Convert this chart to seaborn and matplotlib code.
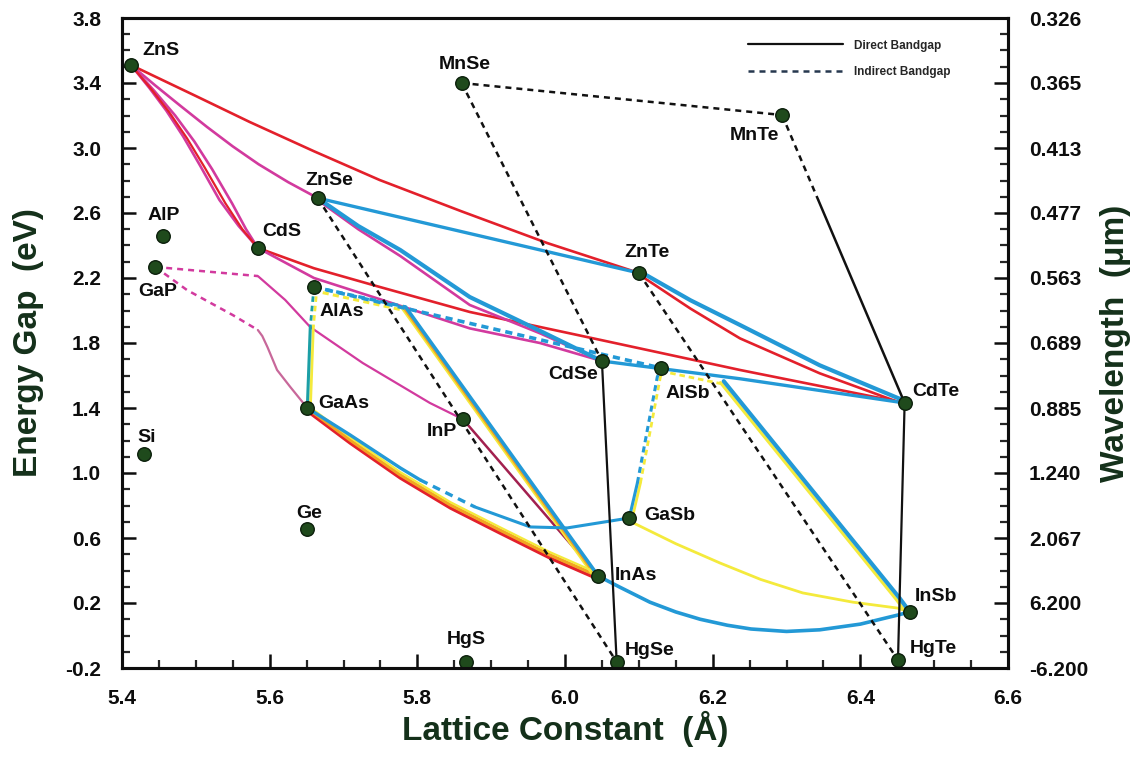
import matplotlib
matplotlib.use("Agg")
import matplotlib.pyplot as plt
import seaborn as sns
import pandas as pd
from matplotlib.lines import Line2D
from matplotlib.ticker import MultipleLocator, FixedLocator
from matplotlib.transforms import offset_copy

# ---------------- data ----------------
compounds = ["ZnS", "ZnSe", "CdS", "AlP", "GaP", "AlAs", "GaAs", "Si", "Ge", "InP", "InAs",
             "HgS", "HgSe", "CdSe", "AlSb", "GaSb", "ZnTe", "MnSe", "MnTe", "CdTe", "InSb", "HgTe"]
lattice = [5.412, 5.665, 5.584, 5.456, 5.445, 5.660, 5.651, 5.430, 5.651, 5.862, 6.045,
           5.866, 6.070, 6.050, 6.130, 6.087, 6.100, 5.860, 6.294, 6.460, 6.467, 6.451]
gap = [3.51, 2.69, 2.385, 2.46, 2.27, 2.145, 1.40, 1.117, 0.655, 1.33, 0.366,
       -0.163, -0.163, 1.689, 1.646, 0.723, 2.231, 3.40, 3.203, 1.431, 0.145, -0.151]

left_ticks = [-0.2, 0.2, 0.6, 1.0, 1.4, 1.8, 2.2, 2.6, 3.0, 3.4, 3.8]
wavelength_labels = ["-6.200", "6.200", "2.067", "1.240", "0.885", "0.689",
                     "0.563", "0.477", "0.413", "0.365", "0.326"]
x_ticks = [5.4, 5.6, 5.8, 6.0, 6.2, 6.4, 6.6]

# alloy curves (lattice constant, energy gap)
znS_znTe_red = [(5.412, 3.511), (5.50, 3.32), (5.573, 3.160), (5.66, 2.98), (5.749, 2.803),
                (5.86, 2.61), (5.976, 2.415), (6.100, 2.231)]
znTe_cdTe_red = [(6.100, 2.231), (6.17, 2.02), (6.237, 1.837), (6.345, 1.622), (6.460, 1.431)]
cdS_cdTe_red = [(5.584, 2.385), (5.66, 2.26), (5.749, 2.145), (5.871, 1.991), (6.047, 1.82),
                (6.237, 1.634), (6.460, 1.431)]
znS_cdS_red = [(5.412, 3.511), (5.440, 3.36), (5.464, 3.22), (5.488, 3.06), (5.512, 2.88),
               (5.540, 2.66), (5.563, 2.50), (5.584, 2.385)]
znS_cdS_mag_a = [(5.412, 3.511), (5.437, 3.37), (5.460, 3.23), (5.483, 3.07), (5.506, 2.89),
                 (5.532, 2.68), (5.558, 2.52), (5.584, 2.385)]
znS_cdS_mag_b = [(5.412, 3.511), (5.444, 3.35), (5.472, 3.20), (5.498, 3.04), (5.522, 2.87),
                 (5.549, 2.66), (5.568, 2.50), (5.584, 2.385)]
znS_znSe_mag = [(5.412, 3.511), (5.445, 3.385), (5.479, 3.26), (5.515, 3.13), (5.550, 3.01),
                (5.585, 2.90), (5.625, 2.79), (5.665, 2.692)]
znSe_cdSe_mag = [(5.665, 2.68), (5.72, 2.50), (5.777, 2.335), (5.871, 2.034), (5.966, 1.86), (6.050, 1.689)]
cdS_cdSe_mag = [(5.584, 2.385), (5.66, 2.20), (5.749, 2.07), (5.871, 1.89), (5.966, 1.80), (6.050, 1.689)]
gaP_inP_ind = [(5.445, 2.268), (5.584, 2.212)]
gaP_inP_dir = [(5.584, 2.212), (5.621, 2.065), (5.655, 1.898), (5.726, 1.677), (5.817, 1.431), (5.862, 1.33)]
gaP_gaAs_ind = [(5.445, 2.268), (5.488, 2.126), (5.550, 1.972), (5.584, 1.880)]
gaP_gaAs_dir = [(5.584, 1.880), (5.590, 1.843), (5.597, 1.775), (5.610, 1.634), (5.628, 1.529), (5.651, 1.40)]
inP_inAs = [(5.862, 1.33), (6.045, 0.366)]

znSe_znTe_blue = [(5.665, 2.692), (6.100, 2.231)]
znSe_cdSe_blue = [(5.665, 2.692), (5.72, 2.52), (5.777, 2.372), (5.871, 2.083), (5.966, 1.875), (6.050, 1.689)]
znTe_cdTe_blue = [(6.100, 2.231), (6.17, 2.05), (6.237, 1.898), (6.345, 1.65), (6.460, 1.431)]
cdSe_cdTe_blue = [(6.050, 1.689), (6.237, 1.58), (6.460, 1.431)]
alAs_alSb_ind = [(5.660, 2.145), (6.130, 1.646)]
alAs_inAs_ind = [(5.660, 2.145), (5.784, 2.022)]
alAs_inAs_dir = [(5.784, 2.022), (6.045, 0.366)]
alAs_gaAs_ind = [(5.660, 2.145), (5.655, 1.898)]
alAs_gaAs_dir = [(5.655, 1.898), (5.651, 1.40)]
gaAs_inAs = [(5.651, 1.40), (5.709, 1.203), (5.777, 0.988), (5.845, 0.803), (5.912, 0.649), (5.980, 0.495), (6.045, 0.366)]
gaAs_gaSb_a = [(5.651, 1.40), (5.709, 1.234), (5.777, 1.031), (5.804, 0.957)]
gaAs_gaSb_ind = [(5.804, 0.957), (5.878, 0.791)]
gaAs_gaSb_b = [(5.878, 0.791), (5.953, 0.668), (6.003, 0.662), (6.087, 0.723)]
inAs_inSb = [(6.045, 0.366), (6.074, 0.298), (6.115, 0.205), (6.15, 0.145), (6.183, 0.10),
             (6.22, 0.063), (6.252, 0.040), (6.30, 0.025), (6.345, 0.035), (6.40, 0.07),
             (6.450, 0.125), (6.467, 0.145)]
gaSb_inSb = [(6.087, 0.723), (6.093, 0.692), (6.15, 0.565), (6.210, 0.446), (6.265, 0.345),
             (6.322, 0.262), (6.39, 0.205), (6.450, 0.169), (6.467, 0.145)]
gaSb_alSb_dir = [(6.087, 0.723), (6.098, 0.938)]
gaSb_alSb_ind = [(6.098, 0.938), (6.125, 1.591), (6.130, 1.646)]
alSb_inSb_ind = [(6.130, 1.646), (6.215, 1.565)]
alSb_inSb_dir = [(6.215, 1.565), (6.453, 0.231), (6.467, 0.145)]

mnSe_mnTe = [(5.860, 3.40), (6.294, 3.203)]
mnSe_cdSe = [(5.860, 3.40), (6.050, 1.689)]
mnTe_cdTe_ind = [(6.294, 3.203), (6.343, 2.680)]
mnTe_cdTe_dir = [(6.343, 2.680), (6.460, 1.431)]
znSe_hgSe = [(5.665, 2.692), (6.070, -0.163)]
znTe_hgTe = [(6.100, 2.231), (6.451, -0.151)]
cdSe_hgSe = [(6.050, 1.689), (6.070, -0.163)]
cdTe_hgTe = [(6.460, 1.431), (6.451, -0.151)]

# ---------------- style ----------------
RED = "#e3202b"
MAG = "#d23a9e"
PINK = "#c8689a"
BLUE = "#2399d6"
TEAL = "#1c9fa6"
YEL = "#f4ea3c"
ORA = "#f2a422"
MAR = "#a2204f"
BLK = "#111111"
DASH = (0, (2.4, 2.0))

label_offsets = {
    "ZnS": (8.6, 10.8, "left"), "ZnSe": (8.6, 13, "center"), "CdS": (3, 11.5, "left"),
    "AlP": (0, 14.4, "center"), "GaP": (1.5, -18, "center"), "AlAs": (4.3, -18, "left"),
    "GaAs": (8, 3.6, "left"), "Si": (2, 12, "center"), "Ge": (1.5, 11.5, "center"),
    "InP": (-4.3, -8.6, "right"), "InAs": (12, 0.7, "left"), "HgS": (0, 16, "center"),
    "HgSe": (5.8, 8.6, "left"), "CdSe": (-3, -10, "right"), "AlSb": (3, -18, "left"),
    "GaSb": (11, 2, "left"), "ZnTe": (5.8, 14.4, "center"), "MnSe": (2, 13, "center"),
    "MnTe": (-20, -14.4, "center"), "CdTe": (5.8, 8, "left"), "InSb": (3.6, 10.8, "left"),
    "HgTe": (8.6, 8, "left"),
}

sns.set_theme(style="ticks")
plt.rcParams["font.family"] = ["Liberation Sans", "DejaVu Sans"]
plt.rcParams["font.weight"] = "bold"

fig = plt.figure(figsize=(11.36, 7.66), dpi=100)
ax = fig.add_axes([122 / 1136, 1 - 668 / 766, 886 / 1136, 650 / 766])


def draw(points, color, lw=1.8, ls="-", z=2, shift=(0, 0)):
    df = pd.DataFrame(points, columns=["a", "E"])
    tr = offset_copy(ax.transData, fig=fig, x=shift[0], y=shift[1], units="points")
    sns.lineplot(data=df, x="a", y="E", sort=False, estimator=None, color=color,
                 linewidth=lw, linestyle=ls, zorder=z, ax=ax, transform=tr,
                 solid_capstyle="round", solid_joinstyle="round")


# red / magenta family
draw(znS_znTe_red, RED, 1.9)
draw(znTe_cdTe_red, RED, 1.9, shift=(0, -1))
draw(cdS_cdTe_red, RED, 1.9)
draw(znS_cdS_mag_a, MAG, 1.9)
draw(znS_cdS_mag_b, MAG, 1.9)
draw(znS_cdS_red, RED, 1.6, z=2.1)
draw(znS_znSe_mag, MAG, 1.9)
draw(znSe_cdSe_mag, MAG, 1.9)
draw(cdS_cdSe_mag, MAG, 1.9)
draw(gaP_inP_ind, MAG, 1.8, ls=DASH)
draw(gaP_inP_dir, MAG, 1.6)
draw(gaP_gaAs_ind, MAG, 1.8, ls=DASH)
draw(gaP_gaAs_dir, PINK, 1.6)
draw(inP_inAs, MAR, 1.8)

# blue / yellow family
draw(znSe_znTe_blue, BLUE, 2.4, z=3)
draw(znSe_cdSe_blue, BLUE, 3.0, z=3)
draw(znTe_cdTe_blue, BLUE, 3.0, z=3, shift=(0, 1.5))
draw(cdSe_cdTe_blue, BLUE, 2.4, z=3)
draw(alAs_alSb_ind, BLUE, 2.6, ls=(0, (2.0, 1.4)), z=3)
draw(alAs_inAs_ind, YEL, 2.2, ls=(0, (2.0, 1.4)), z=2.8, shift=(-1, -2.5))
draw(alAs_inAs_dir, ORA, 2.4, z=2.8, shift=(-2.2, 0))
draw(alAs_inAs_dir, YEL, 1.2, z=2.9, shift=(-3.6, 0))
draw(alAs_inAs_ind, BLUE, 2.4, ls=(0, (2.0, 1.4)), z=3)
draw(alAs_inAs_dir, BLUE, 2.6, z=3)
draw(alAs_gaAs_ind, YEL, 2.0, ls=(0, (2.0, 1.4)), z=2.8, shift=(2.2, 0))
draw(alAs_gaAs_ind, TEAL, 2.0, ls=(0, (2.0, 1.4)), z=3)
draw(alAs_gaAs_dir, YEL, 2.0, z=2.8, shift=(2.2, 0))
draw(alAs_gaAs_dir, TEAL, 2.2, z=3)
draw(gaAs_inAs, RED, 2.4, z=2.6, shift=(0, -2.2))
draw(gaAs_inAs, ORA, 2.4, z=2.7)
draw(gaAs_inAs, YEL, 1.6, z=2.8, shift=(0, 2.0))
draw(gaAs_gaSb_a, BLUE, 2.4, z=3)
draw(gaAs_gaSb_ind, BLUE, 2.4, ls=(0, (2.4, 1.8)), z=3)
draw(gaAs_gaSb_b, BLUE, 2.2, z=3)
draw(inAs_inSb, BLUE, 2.6, z=3)
draw(gaSb_inSb, YEL, 2.0, z=2.8)
draw(gaSb_alSb_dir, YEL, 2.0, z=2.8, shift=(2.2, 0))
draw(gaSb_alSb_ind, YEL, 2.0, ls=(0, (2.0, 1.4)), z=2.8, shift=(2.2, 0))
draw(gaSb_alSb_dir, BLUE, 2.2, z=3)
draw(gaSb_alSb_ind, BLUE, 2.2, ls=(0, (2.0, 1.4)), z=3)
draw(alSb_inSb_ind, YEL, 2.0, ls=(0, (2.0, 1.4)), z=2.8, shift=(0, -2.2))
draw(alSb_inSb_dir, YEL, 2.2, z=2.8, shift=(-2.4, -1))
draw(alSb_inSb_dir, BLUE, 3.0, z=3)

# black (direct / indirect tie lines)
draw(mnSe_mnTe, BLK, 1.8, ls=DASH, z=4)
draw(mnSe_cdSe, BLK, 1.8, ls=DASH, z=4)
draw(mnTe_cdTe_ind, BLK, 1.8, ls=DASH, z=4)
draw(mnTe_cdTe_dir, BLK, 1.8, z=4)
draw(znSe_hgSe, BLK, 1.8, ls=DASH, z=4)
draw(znTe_hgTe, BLK, 1.8, ls=DASH, z=4)
draw(cdSe_hgSe, BLK, 1.6, z=4)
draw(cdTe_hgTe, BLK, 1.6, z=4)

# compounds
cdf = pd.DataFrame({"name": compounds, "a": lattice, "E": gap})
sns.scatterplot(data=cdf, x="a", y="E", s=95, color="#1f4a1c", edgecolor="#0b1f0b",
                linewidth=1.0, zorder=6, ax=ax, clip_on=False, legend=False)
for n, a, e in zip(compounds, lattice, gap):
    dx, dy, ha = label_offsets[n]
    ax.annotate(n, (a, e), xytext=(dx, dy), textcoords="offset points", ha=ha, va="center",
                fontsize=14, fontweight="bold", color="#0d0d0d", zorder=7)

# legend
handles = [Line2D([], [], color=BLK, lw=1.6),
           Line2D([], [], color="#26384f", lw=1.8, ls=(0, (2.4, 2.0)))]
leg = ax.legend(handles, ["Direct Bandgap", "Indirect Bandgap"], loc="upper left",
                bbox_to_anchor=(0.700, 0.976), frameon=False, handlelength=8.0,
                handletextpad=1.0, labelspacing=1.2, borderpad=0,
                prop={"size": 8.5, "weight": "bold", "family": ["Liberation Sans", "DejaVu Sans"]})

# axes
ax.set_xlim(5.4, 6.6)
ax.set_ylim(-0.2, 3.8)
ax.xaxis.set_major_locator(FixedLocator(x_ticks))
ax.xaxis.set_minor_locator(MultipleLocator(0.05))
ax.yaxis.set_major_locator(FixedLocator(left_ticks))
ax.yaxis.set_minor_locator(MultipleLocator(0.1))
ax.set_xticklabels([f"{v:.1f}" for v in x_ticks])
ax.set_yticklabels([f"{v:.1f}" for v in left_ticks])
ax.tick_params(axis="both", which="major", direction="in", length=10, width=1.8,
               labelsize=15, pad=15, colors="#0d0d0d", top=False, right=False)
ax.tick_params(axis="both", which="minor", direction="in", length=5.5, width=1.6,
               top=False, right=False)
for sp in ax.spines.values():
    sp.set_linewidth(2.2)
    sp.set_color("#0d0d0d")

ax.set_xlabel("Lattice Constant  (Å)", fontsize=24, fontweight="bold", color="#14301a")
ax.set_ylabel("Energy Gap  (eV)", fontsize=24, fontweight="bold", color="#14301a")
ax.xaxis.set_label_coords(0.5, -0.066)
ax.yaxis.set_label_coords(-0.088, 0.5)

ax2 = ax.twinx()
ax2.set_ylim(-0.2, 3.8)
ax2.yaxis.set_major_locator(FixedLocator(left_ticks))
ax2.yaxis.set_minor_locator(MultipleLocator(0.1))
ax2.set_yticklabels(wavelength_labels)
ax2.tick_params(axis="y", which="major", direction="in", length=10, width=1.8,
                labelsize=15, pad=15, colors="#0d0d0d")
ax2.tick_params(axis="y", which="minor", direction="in", length=5.5, width=1.6)
for sp in ax2.spines.values():
    sp.set_linewidth(2.2)
    sp.set_color("#0d0d0d")
ax2.set_ylabel("Wavelength  (μm)", fontsize=24, fontweight="bold", color="#14301a")
ax2.yaxis.set_label_coords(1.104, 0.5)

for t in ax.get_xticklabels() + ax.get_yticklabels() + ax2.get_yticklabels():
    t.set_fontweight("bold")

fig.savefig("out.png", dpi=100, facecolor="white")
